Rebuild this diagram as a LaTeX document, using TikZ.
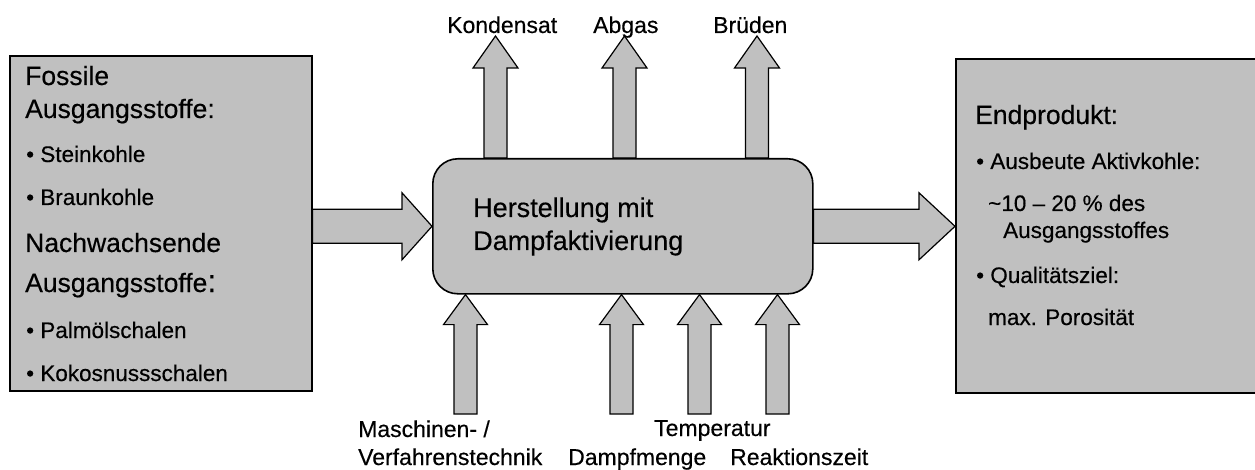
\documentclass[tikz,border=0pt]{standalone}
\usepackage{fontspec}
\setmainfont{Liberation Sans}[FakeBold=0.35]
\usetikzlibrary{calc,backgrounds}
\definecolor{boxgray}{HTML}{C0C0C0}

\tikzset{
  panel/.style={draw=black, line width=1.6pt, fill=boxgray, inner sep=0pt},
  flow/.style={draw=black, line width=1.2pt, fill=boxgray, line join=miter},
  txt/.style={anchor=base west, inner sep=0pt, text=black},
  head/.style={txt, font=\fontsize{26.5}{30}\selectfont},
  item/.style={txt, font=\fontsize{22.5}{26}\selectfont},
  lbl/.style={txt, font=\fontsize{23}{26}\selectfont},
}

% block arrow: #1 tail, #2 tip, #3 shaft half width, #4 head half width, #5 head length
\newcommand\blockarrow[5]{%
  \path ($(#2)!#5!(#1)$) coordinate (ba-h);
  \draw[flow] ($(#1)!#3!90:(#2)$) -- ($(ba-h)!#3!90:(#2)$) -- ($(ba-h)!#4!90:(#2)$)
    -- (#2) -- ($(ba-h)!#4!-90:(#2)$) -- ($(ba-h)!#3!-90:(#2)$)
    -- ($(#1)!#3!-90:(#2)$) -- cycle;
}

\begin{document}
\begin{tikzpicture}[x=1pt, y=-1pt]
\useasboundingbox (0,0) rectangle (1255,470);
\clip (0,0) rectangle (1255,470);

% boxes
\node[panel, anchor=north west, minimum width=302pt, minimum height=335pt] (src) at (9,55) {};
\node[panel, anchor=north west, rounded corners=25pt, minimum width=380pt, minimum height=135pt] (proc) at (432,158) {};
\node[panel, anchor=north west, minimum width=320pt, minimum height=334pt] (prod) at (955,58) {};

% raw materials
\node[head] (src-a) at (25,85) {Fossile};
\node[head] (src-b) at (25,118) {Ausgangsstoffe:};
\node[item] (src-c) at (26,162) {• Steinkohle};
\node[item] (src-d) at (26,205) {• Braunkohle};
\node[head] (src-e) at (25,252) {Nachwachsende};
\node[head] (src-f) at (25,292) {Ausgangsstoffe{\fontsize{32}{32}\selectfont:}};
\node[item] (src-g) at (26,338) {• Palmölschalen};
\node[item] (src-h) at (26,381) {• Kokosnussschalen};

% process
\node[txt, font=\fontsize{27}{31}\selectfont] (proc-a) at (473,217) {Herstellung mit};
\node[txt, font=\fontsize{27}{31}\selectfont] (proc-b) at (473,250) {Dampfaktivierung};

% product
\node[head] (prod-a) at (975,124) {Endprodukt:};
\node[item] (prod-b) at (976,169) {• Ausbeute Aktivkohle:};
\node[item] (prod-c) at (988,211) {\textasciitilde 10 – 20 \% des};
\node[item] (prod-d) at (1003,238) {Ausgangsstoffes};
\node[item] (prod-e) at (976,283) {• Qualitätsziel:};
\node[item] (prod-f) at (988,325) {max. Porosität};

% outputs
\node[lbl] (kon) at (447,33) {Kondensat};
\node[lbl] (abg) at (593,33) {Abgas};
\node[lbl] (bru) at (713,33) {Brüden};
\coordinate (kon-tip) at (495.5,36);
\coordinate (abg-tip) at (624.5,36);
\coordinate (bru-tip) at (757,36);

% inputs
\node[lbl] (mas) at (358,437) {Maschinen- /};
\node[lbl] (ver) at (358,465) {Verfahrenstechnik};
\node[lbl] (dam) at (568,465) {Dampfmenge};
\node[lbl] (tem) at (654,436) {Temperatur};
\node[lbl] (rea) at (730,465) {Reaktionszeit};
\coordinate (mas-tail) at (465.5,414);
\coordinate (dam-tail) at (621.5,414);
\coordinate (tem-tail) at (699.5,414);
\coordinate (rea-tail) at (777.5,414);

\begin{pgfonlayer}{background}
  \blockarrow{src.east |- proc.west}{proc.west}{17pt}{33.5pt}{30pt}
  \blockarrow{proc.east}{prod.west |- proc.east}{17pt}{33.5pt}{36pt}
  \blockarrow{proc.north -| kon-tip}{kon-tip}{11.5pt}{22.5pt}{32pt}
  \blockarrow{proc.north -| abg-tip}{abg-tip}{11.5pt}{22.5pt}{32pt}
  \blockarrow{proc.north -| bru-tip}{bru-tip}{11.5pt}{22.5pt}{32pt}
  \blockarrow{mas-tail}{proc.south -| mas-tail}{11.5pt}{22pt}{30pt}
  \blockarrow{dam-tail}{proc.south -| dam-tail}{11.5pt}{22pt}{30pt}
  \blockarrow{tem-tail}{proc.south -| tem-tail}{11.5pt}{22pt}{30pt}
  \blockarrow{rea-tail}{proc.south -| rea-tail}{11.5pt}{22pt}{30pt}
\end{pgfonlayer}
\end{tikzpicture}
\end{document}
